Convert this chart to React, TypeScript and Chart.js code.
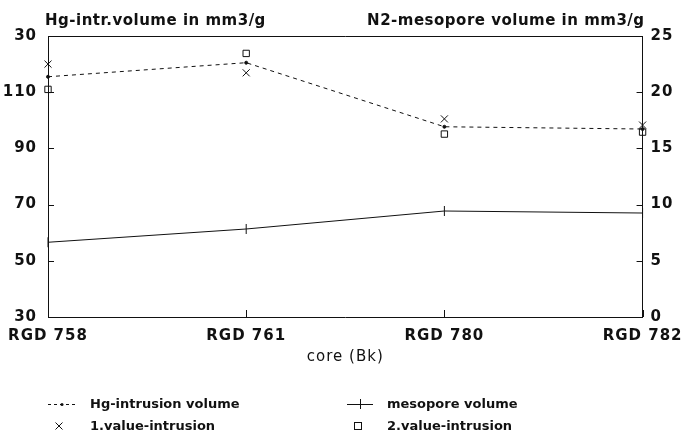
import { useEffect, useRef } from "react";
import { Chart, registerables } from "chart.js";

Chart.register(...registerables);

// Cores along the horizontal axis
const cores = ["RGD 758", "RGD 761", "RGD 780", "RGD 782"];

// Hg-intrusion volume (mm3/g), left axis
const hgIntrusion = [115.5, 120.5, 97.7, 96.9];
const firstValueIntrusion = [120.0, 116.9, 100.5, 98.3];
const secondValueIntrusion = [111.0, 123.8, 95.1, 95.8];

// N2 mesopore volume (mm3/g), right axis
const mesoporeVolume = [6.65, 7.83, 9.43, 9.25];

// Axis ticks and their printed labels
const hgTicks = [30, 50, 70, 90, 110, 130];
const hgTickLabels = ["30", "50", "70", "90", "110", "30"];
const n2Ticks = [0, 5, 10, 15, 20, 25];

const leftTitle = "Hg-intr.volume in mm3/g";
const rightTitle = "N2-mesopore volume in mm3/g";
const xTitle = "core (Bk)";

const legendItems = [
  { label: "Hg-intrusion volume", kind: "dashdot" },
  { label: "mesopore volume", kind: "solidcross" },
  { label: "1.value-intrusion", kind: "x" },
  { label: "2.value-intrusion", kind: "square" },
];

const INK = "#111";
const FONT = "'DejaVu Sans', 'Liberation Sans', sans-serif";

const decorations = {
  id: "decorations",
  beforeDraw(chart: any) {
    chart.ctx.letterSpacing = "1px";
  },
  afterDraw(chart: any) {
    const { ctx, chartArea } = chart;
    const { left, right, top, bottom } = chartArea;
    const yL = chart.scales.y;
    const yR = chart.scales.y1;
    const x = chart.scales.x;
    ctx.save();
    ctx.strokeStyle = INK;
    ctx.fillStyle = INK;
    ctx.lineWidth = 1;

    // top edge of the frame
    ctx.beginPath();
    ctx.moveTo(left, top + 0.5);
    ctx.lineTo(right, top + 0.5);
    ctx.stroke();

    // inward tick marks
    ctx.beginPath();
    hgTicks.forEach((v) => {
      const py = Math.round(yL.getPixelForValue(v)) + 0.5;
      ctx.moveTo(left, py);
      ctx.lineTo(left + 6, py);
    });
    n2Ticks.forEach((v) => {
      const py = Math.round(yR.getPixelForValue(v)) + 0.5;
      ctx.moveTo(right, py);
      ctx.lineTo(right - 6, py);
    });
    cores.forEach((_, i) => {
      const px = Math.round(x.getPixelForValue(i)) + 0.5;
      ctx.moveTo(px, bottom);
      ctx.lineTo(px, bottom - 7);
    });
    ctx.stroke();

    // axis titles
    ctx.letterSpacing = "0.5px";
    ctx.font = `bold 15px ${FONT}`;
    ctx.textBaseline = "middle";
    ctx.textAlign = "left";
    ctx.fillText(leftTitle, left - 3, 21);
    ctx.textAlign = "right";
    ctx.fillText(rightTitle, right + 2, 21);

    ctx.font = `15px ${FONT}`;
    ctx.textAlign = "center";
    ctx.letterSpacing = "1px";
    ctx.fillText(xTitle, (left + right) / 2, 357);

    // legend
    ctx.font = `bold 13px ${FONT}`;
    ctx.letterSpacing = "0px";
    ctx.textAlign = "left";
    const cols = [
      { sym: 48, text: 90 },
      { sym: 347, text: 387 },
    ];
    const rows = [404, 426];
    legendItems.forEach((item, i) => {
      const c = cols[i % 2];
      const ry = rows[Math.floor(i / 2)];
      ctx.lineWidth = 1;
      if (item.kind === "dashdot") {
        ctx.setLineDash([3, 3]);
        ctx.beginPath();
        ctx.moveTo(c.sym, ry + 0.5);
        ctx.lineTo(c.sym + 27, ry + 0.5);
        ctx.stroke();
        ctx.setLineDash([]);
        ctx.beginPath();
        ctx.arc(c.sym + 14, ry + 0.5, 1.5, 0, Math.PI * 2);
        ctx.fill();
      } else if (item.kind === "solidcross") {
        ctx.beginPath();
        ctx.moveTo(c.sym, ry + 0.5);
        ctx.lineTo(c.sym + 26, ry + 0.5);
        ctx.moveTo(c.sym + 13.5, ry - 5);
        ctx.lineTo(c.sym + 13.5, ry + 5);
        ctx.stroke();
      } else if (item.kind === "x") {
        const cx = c.sym + 11;
        ctx.beginPath();
        ctx.moveTo(cx - 3.5, ry - 3.5);
        ctx.lineTo(cx + 3.5, ry + 3.5);
        ctx.moveTo(cx + 3.5, ry - 3.5);
        ctx.lineTo(cx - 3.5, ry + 3.5);
        ctx.stroke();
      } else {
        const cx = c.sym + 11;
        ctx.strokeRect(cx - 3.5, ry - 3.5, 7, 7);
      }
      ctx.fillText(item.label, c.text, ry + 1);
    });
    ctx.restore();
  },
};

export default function App() {
  const canvasRef = useRef<HTMLCanvasElement | null>(null);

  useEffect(() => {
    document.body.style.margin = "0";
    const canvas = canvasRef.current;
    if (!canvas) return;
    const tickFont = { family: FONT, size: 15, weight: "bold" as const };
    const chart = new Chart(canvas, {
      type: "line",
      data: {
        labels: cores,
        datasets: [
          {
            label: "Hg-intrusion volume",
            data: hgIntrusion,
            yAxisID: "y",
            borderColor: INK,
            borderWidth: 1,
            borderDash: [4, 4],
            pointStyle: "circle",
            pointRadius: 1.5,
            pointBackgroundColor: INK,
            pointBorderColor: INK,
            tension: 0,
            clip: false,
          },
          {
            label: "1.value-intrusion",
            data: firstValueIntrusion,
            yAxisID: "y",
            showLine: false,
            pointStyle: "crossRot",
            pointRadius: 5,
            pointBorderWidth: 1,
            pointBorderColor: INK,
            clip: false,
          },
          {
            label: "2.value-intrusion",
            data: secondValueIntrusion,
            yAxisID: "y",
            showLine: false,
            pointStyle: "rect",
            pointRadius: 4.5,
            pointBorderWidth: 1,
            pointBorderColor: INK,
            pointBackgroundColor: "rgba(255,255,255,0)",
            clip: false,
          },
          {
            label: "mesopore volume",
            data: mesoporeVolume,
            yAxisID: "y1",
            borderColor: INK,
            borderWidth: 1,
            pointStyle: "line",
            pointRotation: 90,
            pointRadius: 5,
            pointBorderWidth: 1,
            pointBorderColor: INK,
            tension: 0,
            clip: false,
          },
        ],
      },
      options: {
        responsive: false,
        animation: false,
        devicePixelRatio: 1,
        layout: { padding: { top: 36, left: 0, right: 0, bottom: 0 } },
        plugins: {
          legend: { display: false },
          tooltip: { enabled: false },
          title: { display: false },
        },
        scales: {
          x: {
            type: "category",
            offset: false,
            grid: { display: false, drawTicks: false },
            border: { display: true, color: INK, width: 1 },
            ticks: {
              color: INK,
              font: tickFont,
              padding: 10,
              autoSkip: false,
              maxRotation: 0,
            },
            afterFit(scale: any) {
              scale.height = 121;
            },
          },
          y: {
            position: "left",
            min: 30,
            max: 130,
            grid: { display: false, drawTicks: false },
            border: { display: true, color: INK, width: 1 },
            afterBuildTicks(scale: any) {
              scale.ticks = hgTicks.map((v) => ({ value: v }));
            },
            ticks: {
              color: INK,
              font: tickFont,
              padding: 11,
              callback: (v: any) => {
                const i = hgTicks.indexOf(Number(v));
                return i >= 0 ? hgTickLabels[i] : "";
              },
            },
            afterFit(scale: any) {
              scale.width = 48;
            },
          },
          y1: {
            position: "right",
            min: 0,
            max: 25,
            grid: { display: false, drawTicks: false },
            border: { display: true, color: INK, width: 1 },
            afterBuildTicks(scale: any) {
              scale.ticks = n2Ticks.map((v) => ({ value: v }));
            },
            ticks: { color: INK, font: tickFont, padding: 8 },
            afterFit(scale: any) {
              scale.width = 44;
            },
          },
        },
      },
      plugins: [decorations],
    });
    return () => chart.destroy();
  }, []);

  return (
    <div style={{ position: "absolute", left: 0, top: 0, width: 689, height: 438, background: "#fff" }}>
      <canvas ref={canvasRef} width={689} height={438} />
    </div>
  );
}
